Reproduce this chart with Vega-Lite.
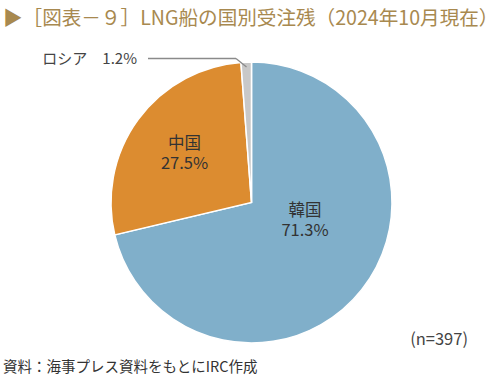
{
  "$schema": "https://vega.github.io/schema/vega-lite/v6.json",
  "width": 503,
  "height": 405,
  "autosize": "none",
  "padding": 0,
  "background": "white",
  "config": {"view": {"stroke": null}, "font": "Noto Sans CJK JP"},
  "data": {"values": [
    {"country": "韓国", "pct": 71.3, "order": 1},
    {"country": "中国", "pct": 27.5, "order": 2},
    {"country": "ロシア", "pct": 1.2, "order": 3}
  ]},
  "transform": [{"calculate": "format(datum.pct, '.1f') + '%'", "as": "pctLabel"}],
  "layer": [
    {
      "mark": {"type": "arc", "outerRadius": 140.5, "stroke": "white", "strokeWidth": 1.5},
      "encoding": {
        "theta": {"field": "pct", "type": "quantitative", "stack": true},
        "order": {"field": "order", "type": "quantitative"},
        "color": {"field": "country", "type": "nominal", "scale": {"domain": ["韓国", "中国", "ロシア"], "range": ["#80afca", "#dc8c30", "#c8c8c8"]}, "legend": null}
      }
    },
    {
      "mark": {"type": "text", "radius": 83, "fontSize": 16.5, "color": "#333333", "dx": -11.6, "dy": -43},
      "encoding": {
        "theta": {"field": "pct", "type": "quantitative", "stack": true},
        "order": {"field": "order", "type": "quantitative"},
        "text": {"condition": {"test": "datum.country === '韓国'", "field": "country"}, "value": ""}
      }
    },
    {
      "mark": {"type": "text", "radius": 83, "fontSize": 16.5, "color": "#333333", "dx": -11.6, "dy": -23},
      "encoding": {
        "theta": {"field": "pct", "type": "quantitative", "stack": true},
        "order": {"field": "order", "type": "quantitative"},
        "text": {"condition": {"test": "datum.country === '韓国'", "field": "pctLabel"}, "value": ""}
      }
    },
    {
      "mark": {"type": "text", "radius": 83, "fontSize": 16.5, "color": "#333333", "dy": -10},
      "encoding": {
        "theta": {"field": "pct", "type": "quantitative", "stack": true},
        "order": {"field": "order", "type": "quantitative"},
        "text": {"condition": {"test": "datum.country === '中国'", "field": "country"}, "value": ""}
      }
    },
    {
      "mark": {"type": "text", "radius": 83, "fontSize": 16.5, "color": "#333333", "dy": 10},
      "encoding": {
        "theta": {"field": "pct", "type": "quantitative", "stack": true},
        "order": {"field": "order", "type": "quantitative"},
        "text": {"condition": {"test": "datum.country === '中国'", "field": "pctLabel"}, "value": ""}
      }
    },
    {
      "data": {"values": [{}]},
      "mark": {"type": "rule", "color": "#8a8a8a", "strokeWidth": 1.3},
      "encoding": {"x": {"value": 148}, "y": {"value": 58.5}, "x2": {"value": 236}, "y2": {"value": 58.5}}
    },
    {
      "data": {"values": [{}]},
      "mark": {"type": "rule", "color": "#8a8a8a", "strokeWidth": 1.3},
      "encoding": {"x": {"value": 236}, "y": {"value": 58.5}, "x2": {"value": 246.5}, "y2": {"value": 67}}
    },
    {
      "data": {"values": [{}]},
      "mark": {"type": "text", "align": "right", "baseline": "middle", "fontSize": 15, "color": "#444444", "text": "ロシア　1.2%"},
      "encoding": {"x": {"value": 137}, "y": {"value": 58.5}}
    },
    {
      "data": {"values": [{}]},
      "mark": {"type": "text", "align": "left", "baseline": "middle", "fontSize": 19.6, "color": "#a8894f", "text": "▶［図表－９］LNG船の国別受注残（2024年10月現在）"},
      "encoding": {"x": {"value": 3}, "y": {"value": 19}}
    },
    {
      "data": {"values": [{}]},
      "mark": {"type": "text", "align": "right", "baseline": "middle", "fontSize": 16.5, "color": "#444444", "text": "(n=397)"},
      "encoding": {"x": {"value": 468}, "y": {"value": 340}}
    },
    {
      "data": {"values": [{}]},
      "mark": {"type": "text", "align": "left", "baseline": "middle", "fontSize": 14.5, "color": "#333333", "text": "資料：海事プレス資料をもとにIRC作成"},
      "encoding": {"x": {"value": 3}, "y": {"value": 368}}
    }
  ]
}
